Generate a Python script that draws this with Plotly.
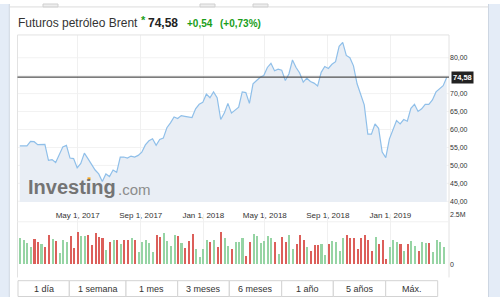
import plotly.graph_objects as go
import pandas as pd

# ---------------- data ----------------
week_start = "2017-01-08"
prices = [
    55.43, 55.40, 55.45, 56.68, 56.60, 55.78, 55.85, 55.86, 51.43, 51.62,
    50.80, 53.00, 55.16, 55.59, 52.05, 51.89, 49.33, 50.53, 53.42, 51.89,
    50.30, 48.71, 47.62, 45.52, 47.62, 46.89, 48.71, 48.08, 52.33, 52.33,
    52.05, 52.60, 52.33, 52.79, 53.69, 55.70, 56.87, 57.41, 55.59, 57.22,
    57.60, 60.49, 61.85, 63.48, 63.05, 63.86, 63.67, 63.48, 63.32, 65.77,
    67.02, 67.56, 69.85, 68.84, 70.48, 68.84, 62.78, 64.57, 67.29, 64.57,
    65.50, 66.20, 70.48, 70.29, 67.29, 72.73, 73.66, 74.56, 75.02, 77.28,
    78.45, 76.38, 76.82, 76.54, 73.66, 75.46, 79.37, 77.28, 75.73, 73.20,
    74.29, 73.39, 72.93, 72.11, 75.92, 77.55, 77.00, 78.18, 78.91, 83.18,
    84.27, 80.63, 80.00, 77.74, 72.73, 70.01, 66.86, 58.69, 58.69, 61.58,
    60.33, 53.69, 52.16, 57.33, 60.05, 62.50, 61.58, 62.78, 62.31, 65.93,
    67.02, 65.03, 65.77, 67.02, 67.02, 68.22, 70.48, 71.37, 72.20, 74.58,
]
volumes_m = [
    1.31, 1.20, 1.04, 0.85, 1.28, 1.12, 0.99, 0.85, 1.47, 1.28,
    1.17, 0.56, 1.20, 1.12, 1.41, 0.80, 1.59, 1.41, 1.41, 1.47,
    0.96, 1.55, 1.35, 1.31, 0.72, 1.12, 1.20, 1.20, 0.99, 1.23,
    1.20, 1.31, 1.20, 0.63, 1.12, 1.20, 1.04, 0.63, 1.44, 1.36,
    1.55, 1.17, 0.91, 1.47, 1.41, 1.04, 0.80, 1.17, 1.52, 0.77,
    0.35, 0.77, 1.20, 1.09, 1.20, 0.85, 1.62, 1.31, 0.91, 0.78,
    1.12, 1.09, 1.31, 0.40, 1.12, 1.52, 1.41, 1.04, 1.17, 1.41,
    1.33, 1.12, 0.51, 1.36, 1.12, 1.44, 0.75, 0.99, 1.44, 1.20,
    0.88, 0.64, 0.95, 0.98, 0.99, 0.45, 0.99, 1.17, 1.12, 0.64,
    1.33, 1.47, 1.30, 1.30, 0.77, 1.30, 1.47, 1.20, 0.67, 1.36,
    1.01, 1.23, 0.24, 0.85, 1.23, 1.12, 1.01, 0.64, 1.01, 1.17,
    0.93, 0.64, 1.09, 1.04, 1.04, 0.59, 1.23, 1.12, 0.85,
]
vol_dir = ("GGGGRRGRRG" "RGGGRRRGGR" "RRRRGRGRGR" "RGRGGGGGRR" "GGGGRGRRRG" "GGGRGRRGGR"
           "GGGRRGGGGG" "GRGRRGGRRR" "GRRRGGRGGG" "GRRRRRRRRG" "RRRGGGRGRG" "GRGGRGGGG")
title = "Futuros petróleo Brent"
last_change = 0.54
last_change_pct = 0.73
grid_ticks = [40, 45, 50, 55, 60, 65, 70, 75, 80]
price_ticks = [40, 45, 50, 55, 60, 65, 70, 80]
price_tick_text = ["40,00", "45,00", "50,00", "55,00", "60,00", "65,00", "70,00", "80,00"]
date_ticks = ["2017-05-01", "2017-09-01", "2018-01-01", "2018-05-01", "2018-09-01", "2019-01-01"]
date_tick_text = ["May 1, 2017", "Sep 1, 2017", "Jan 1, 2018", "May 1, 2018", "Sep 1, 2018", "Jan 1, 2019"]
vol_ticks = [0, 2.5]
vol_tick_text = ["0", "2.5M"]
range_buttons = ["1 día", "1 semana", "1 mes", "3 meses", "6 meses", "1 año", "5 años", "Máx."]

def fmt(v):
    return f"{v:.2f}".replace(".", ",")

dates = pd.date_range(week_start, periods=len(prices), freq="7D")
vol_dates = dates[:len(volumes_m)]

# ---------------- layout geometry (pixels) ----------------
W, H = 500, 300
def fx(p): return p / W
def fy(p): return 1 - p / H

x_left, x_right = 17.5, 449.0
price_top, price_bot = 31.7, 202.7
vol_top, vol_bot = 215.5, 267.0
px_per_day = 0.5126
anchor = pd.Timestamp("2017-05-01"); anchor_px = 77.7
x0 = anchor - pd.Timedelta(days=(anchor_px - x_left) / px_per_day)
x1 = anchor + pd.Timedelta(days=(x_right - anchor_px) / px_per_day)
px_per_unit = 3.675
y_lo = 80 - (price_bot - 55) / px_per_unit
y_hi = 80 + (55 - price_top) / px_per_unit

FONT = "Liberation Sans, Arial, sans-serif"
GREEN_BAR = "#96d4a4"
RED_BAR = "#dc5f5a"

fig = go.Figure()
fig.add_trace(go.Scatter(
    x=dates, y=prices, mode="lines",
    line=dict(color="#8fbfe9", width=1.2),
    fill="tozeroy", fillcolor="#e9eef5",
    xaxis="x", yaxis="y", hoverinfo="skip"))
fig.add_trace(go.Bar(
    x=vol_dates, y=volumes_m,
    marker=dict(color=[GREEN_BAR if d == "G" else RED_BAR for d in vol_dir],
                line=dict(width=0)),
    width=3.9 * 86400000,
    xaxis="x2", yaxis="y2", hoverinfo="skip"))

fig.update_layout(
    width=W, height=H, margin=dict(l=0, r=0, t=0, b=0),
    paper_bgcolor="white", plot_bgcolor="rgba(0,0,0,0)",
    showlegend=False, font=dict(family=FONT, color="#333"),
    bargap=0,
    xaxis=dict(domain=[fx(x_left), fx(x_right)], range=[x0, x1], anchor="y",
               tickvals=date_ticks, ticktext=date_tick_text,
               tickfont=dict(size=8, color="#333"), ticks="", ticklabelstandoff=7,
               showgrid=True, gridcolor="#f0f0f0", gridwidth=1, zeroline=False,
               showline=False),
    yaxis=dict(domain=[fy(price_bot), fy(price_top)], range=[y_lo, y_hi], anchor="x",
               side="right", tickvals=price_ticks, ticktext=price_tick_text,
               tickfont=dict(size=7, color="#333"), ticks="",
               showgrid=False, zeroline=False, showline=False),
    xaxis2=dict(domain=[fx(x_left), fx(x_right)], range=[x0, x1], anchor="y2",
                showticklabels=False, ticks="", tickvals=date_ticks,
                showgrid=True, gridcolor="#f0f0f0", zeroline=False),
    yaxis2=dict(domain=[fy(vol_bot), fy(vol_top)], range=[0, 2.5], anchor="x2",
                side="right", tickvals=vol_ticks, ticktext=vol_tick_text,
                tickfont=dict(size=7, color="#333"), ticks="",
                showgrid=False, zeroline=False, showline=False),
)

shapes = []
# page side backgrounds
shapes.append(dict(type="rect", xref="paper", yref="paper", x0=0, x1=fx(9), y0=0, y1=1,
                   fillcolor="#e4ecf7", line=dict(width=0), layer="below"))
shapes.append(dict(type="rect", xref="paper", yref="paper", x0=fx(489), x1=1, y0=0, y1=1,
                   fillcolor="#e4ecf7", line=dict(width=0), layer="below"))
shapes.append(dict(type="line", xref="paper", yref="paper", x0=fx(9.3), x1=fx(9.3), y0=0, y1=1,
                   line=dict(color="#cdd6e2", width=1)))
shapes.append(dict(type="line", xref="paper", yref="paper", x0=fx(488.5), x1=fx(488.5), y0=0, y1=1,
                   line=dict(color="#cdd6e2", width=1)))
# top strip remains
shapes.append(dict(type="line", xref="paper", yref="paper", x0=fx(9.3), x1=fx(488.5), y0=fy(3), y1=fy(3),
                   line=dict(color="#dcdcdc", width=1)))
for a, b in [(43, 58), (200, 215), (253, 268)]:
    shapes.append(dict(type="rect", xref="paper", yref="paper", x0=fx(a), x1=fx(b), y0=fy(3), y1=1,
                       fillcolor="#eeeeee", line=dict(color="#cfcfcf", width=1)))
# faint horizontal price grid
for g in grid_ticks:
    shapes.append(dict(type="line", xref="paper", yref="y", x0=fx(x_left), x1=fx(x_right), y0=g, y1=g,
                       line=dict(color="#f2f2f2", width=1), layer="below"))
# chart container border
shapes.append(dict(type="path", xref="paper", yref="paper",
                   path=f"M {fx(x_left)},{fy(280)} L {fx(x_left)},{fy(price_top)} L {fx(x_right)},{fy(price_top)} L {fx(x_right)},{fy(280)}",
                   line=dict(color="#e2e2e2", width=1)))
# separator above volume pane
shapes.append(dict(type="line", xref="paper", yref="paper", x0=fx(x_left), x1=fx(x_right), y0=fy(223), y1=fy(223),
                   line=dict(color="#f0f0f0", width=1)))
# last price line
shapes.append(dict(type="line", xref="paper", yref="y", x0=fx(x_left), x1=fx(x_right), y0=prices[-1], y1=prices[-1],
                   line=dict(color="#505050", width=1.3)))
# range buttons
btn_edges = [18, 69.3, 126, 177.7, 229.3, 281.7, 333.3, 385.7, 437.7]
for i in range(len(range_buttons)):
    shapes.append(dict(type="rect", xref="paper", yref="paper",
                       x0=fx(btn_edges[i]), x1=fx(btn_edges[i + 1]), y0=fy(299.5), y1=fy(283.3),
                       line=dict(color="#d3d3d3", width=1), fillcolor="white"))
# orange dot of logo
shapes.append(dict(type="rect", xref="paper", yref="paper", x0=fx(87.5), x1=fx(90.5), y0=fy(180.5), y1=fy(177.5),
                   fillcolor="#f5a623", line=dict(width=0)))
fig.update_layout(shapes=shapes)

ann = []
def text(x, y, s, size, color="#333", bold=False, xanchor="left", yref="paper", bg=None):
    d = dict(xref="paper", yref=yref, x=fx(x), y=(fy(y) if yref == "paper" else y), text=(f"<b>{s}</b>" if bold else s),
             showarrow=False, xanchor=xanchor, yanchor="middle",
             font=dict(family=FONT, size=size, color=color), borderpad=0)
    if bg:
        d["bgcolor"] = bg
        d["borderpad"] = 1
    ann.append(d)

text(17, 19, title, 12, "#333")
text(139.5, 16, "*", 11, "#1a9e1a", bold=True)
text(147, 19, fmt(prices[-1]), 12, "#222", bold=True)
text(185.5, 19.5, "+" + fmt(last_change), 10, "#1a9e1a", bold=True)
text(218.5, 19.5, "(+" + fmt(last_change_pct) + "%)", 10, "#1a9e1a", bold=True)
# last price tag
text(450.5, prices[-1], fmt(prices[-1]), 7.5, "white", bold=True, yref="y", bg="#222")
# watermark
text(27, 187, "<b>Investing</b>", 20, "#747474")
text(116.5, 189.5, ".com", 15, "#8c8c8c")
# range buttons labels
for i, lab in enumerate(range_buttons):
    text((btn_edges[i] + btn_edges[i + 1]) / 2, 292, lab, 9, "#333", xanchor="center")
fig.update_layout(annotations=ann)

fig.write_html("out.html")
